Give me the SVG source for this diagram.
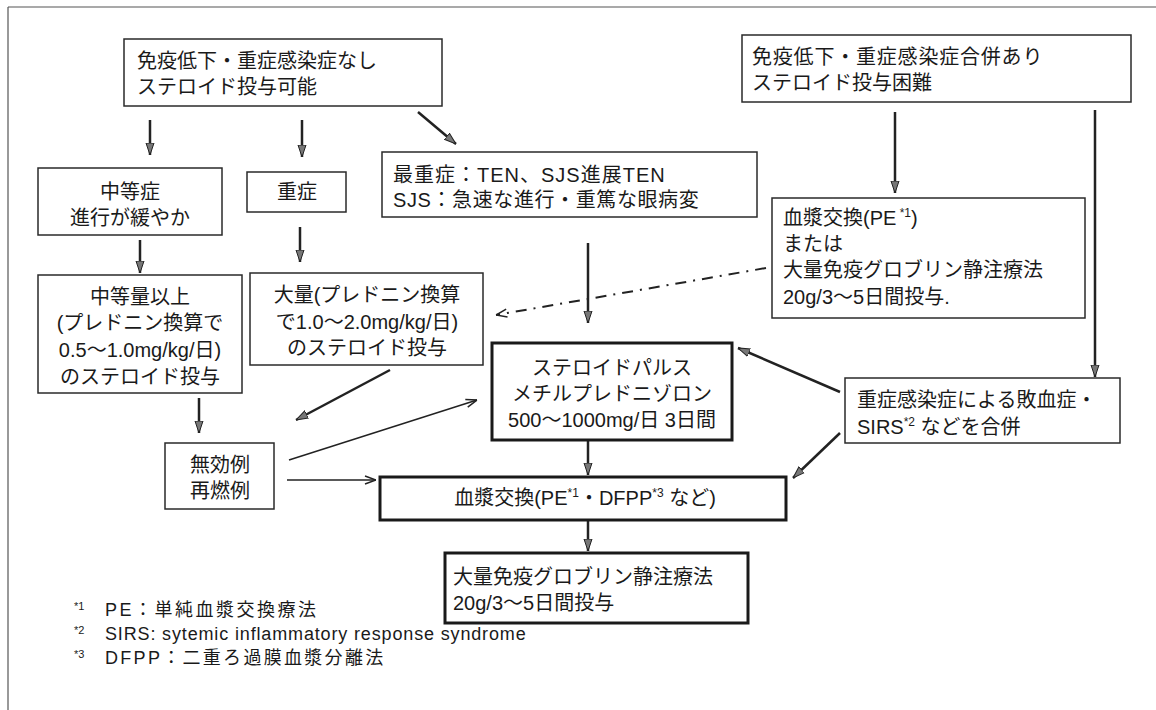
<svg xmlns="http://www.w3.org/2000/svg" width="1156" height="710" viewBox="0 0 1156 710">
<style>
.t{font-family:"Liberation Sans","Noto Sans CJK JP",sans-serif;font-size:20px;fill:#1a1a1a}
.c{text-anchor:middle}
.sup{font-size:12px}
.fn{font-family:"Liberation Sans","Noto Sans CJK JP",sans-serif;font-size:18px;fill:#1a1a1a}
.fm{font-family:"Liberation Sans","Noto Sans CJK JP",sans-serif;font-size:11px;fill:#1a1a1a}
.box{fill:#fff;stroke:#2a2a2a;stroke-width:1.5}
.bold{fill:#fff;stroke:#1a1a1a;stroke-width:3}
.ar{stroke:#222;stroke-width:2.5;fill:none;marker-end:url(#ah)}
.th{stroke:#222;stroke-width:1.5;fill:none;marker-end:url(#oh)}
.dd{stroke:#222;stroke-width:2;fill:none;stroke-dasharray:11 7 2 7;marker-end:url(#oh)}
</style>
<defs>
<marker id="ah" viewBox="0 0 12 10" refX="12" refY="5" markerWidth="12" markerHeight="10" markerUnits="userSpaceOnUse" orient="auto">
<path d="M0,1 L12,5 L0,9 Z" fill="#777" stroke="#222" stroke-width="1"/>
</marker>
<marker id="oh" viewBox="0 0 12 10" refX="12" refY="5" markerWidth="12" markerHeight="10" markerUnits="userSpaceOnUse" orient="auto">
<path d="M1,1 L12,5 L1,9" fill="none" stroke="#222" stroke-width="1.5"/>
</marker>
</defs>
<rect width="1156" height="710" fill="#fff"/>
<g id="frame" stroke="#555" stroke-width="1.2">
<line x1="8" y1="7" x2="1156" y2="7"/>
<line x1="8" y1="7" x2="8" y2="710"/>
</g>

<g id="connectors">
<line class="ar" x1="150" y1="120" x2="150" y2="155"/>
<line class="ar" x1="302" y1="120" x2="302" y2="157"/>
<line class="ar" x1="418" y1="112" x2="456" y2="144"/>
<line class="ar" x1="140" y1="240" x2="140" y2="273"/>
<line class="ar" x1="300" y1="227" x2="300" y2="262"/>
<line class="ar" x1="199" y1="398" x2="199" y2="433"/>
<line class="ar" x1="390" y1="370" x2="296" y2="420"/>
<line class="th" x1="289" y1="460" x2="477" y2="400"/>
<line class="th" x1="287" y1="480" x2="376" y2="480"/>
<line class="ar" x1="588" y1="243" x2="588" y2="323"/>
<line class="dd" x1="766" y1="268" x2="496" y2="315"/>
<line class="ar" x1="895" y1="112" x2="895" y2="193"/>
<line class="ar" x1="1095" y1="110" x2="1095" y2="377"/>
<line class="ar" x1="840" y1="392" x2="738" y2="348"/>
<line class="ar" x1="840" y1="433" x2="793" y2="478"/>
<line class="ar" x1="588" y1="440" x2="588" y2="475"/>
<line class="ar" x1="588" y1="520" x2="588" y2="551"/>
</g>

<g id="nodeA">
<rect class="box" x="124" y="39" width="318" height="67"/>
<text class="t" x="137" y="68">免疫低下・重症感染症なし</text>
<text class="t" x="137" y="94">ステロイド投与可能</text>
</g>
<g id="nodeB">
<rect class="box" x="742" y="35" width="389" height="67"/>
<text class="t" x="752" y="64" letter-spacing="0.8">免疫低下・重症感染症合併あり</text>
<text class="t" x="752" y="90">ステロイド投与困難</text>
</g>
<g id="node-moderate">
<rect class="box" x="38" y="168" width="184" height="67"/>
<text class="t c" x="130" y="199">中等症</text>
<text class="t c" x="130" y="225">進行が緩やか</text>
</g>
<g id="node-severe">
<rect class="box" x="247" y="172" width="99" height="40"/>
<text class="t c" x="297" y="199">重症</text>
</g>
<g id="node-most-severe">
<rect class="box" x="382" y="152" width="375" height="65"/>
<text class="t" x="393" y="182" letter-spacing="1">最重症：TEN、SJS進展TEN</text>
<text class="t" x="393" y="207" letter-spacing="0.6">SJS：急速な進行・重篤な眼病変</text>
</g>
<g id="node-pe-ivig">
<rect class="box" x="772" y="198" width="313" height="120"/>
<text class="t" x="783" y="225">血漿交換(PE<tspan class="sup" dy="-8"> *1</tspan><tspan dy="8">)</tspan></text>
<text class="t" x="783" y="251">または</text>
<text class="t" x="783" y="277">大量免疫グロブリン静注療法</text>
<text class="t" x="783" y="304">20g/3〜5日間投与.</text>
</g>
<g id="node-mid-dose">
<rect class="box" x="38" y="275" width="204" height="118"/>
<text class="t c" x="140" y="304">中等量以上</text>
<text class="t c" x="140" y="330">(プレドニン換算で</text>
<text class="t c" x="140" y="357">0.5〜1.0mg/kg/日)</text>
<text class="t c" x="140" y="384">のステロイド投与</text>
</g>
<g id="node-high-dose">
<rect class="box" x="250" y="273" width="233" height="92"/>
<text class="t c" x="367" y="302">大量(プレドニン換算</text>
<text class="t c" x="367" y="329">で1.0〜2.0mg/kg/日)</text>
<text class="t c" x="367" y="355">のステロイド投与</text>
</g>
<g id="node-pulse">
<rect class="bold" x="492" y="343" width="240" height="97"/>
<text class="t c" x="612" y="375">ステロイドパルス</text>
<text class="t c" x="612" y="401">メチルプレドニゾロン</text>
<text class="t c" x="612" y="427">500〜1000mg/日 3日間</text>
</g>
<g id="node-sepsis">
<rect class="box" x="845" y="378" width="275" height="65"/>
<text class="t" x="857" y="407">重症感染症による敗血症・</text>
<text class="t" x="857" y="434">SIRS<tspan class="sup" dy="-8">*2</tspan><tspan dy="8"> などを合併</tspan></text>
</g>
<g id="node-ineffective">
<rect class="box" x="165" y="443" width="109" height="66"/>
<text class="t c" x="220" y="472">無効例</text>
<text class="t c" x="220" y="498">再燃例</text>
</g>
<g id="node-pe">
<rect class="bold" x="380" y="477" width="406" height="43"/>
<text class="t c" x="585" y="505">血漿交換(PE<tspan class="sup" dy="-8">*1</tspan><tspan dy="8">・DFPP</tspan><tspan class="sup" dy="-8">*3</tspan><tspan dy="8"> など)</tspan></text>
</g>
<g id="node-ivig">
<rect class="bold" x="445" y="553" width="303" height="70"/>
<text class="t" x="453" y="584">大量免疫グロブリン静注療法</text>
<text class="t" x="453" y="610">20g/3〜5日間投与</text>
</g>
<g id="footnotes">
<text class="fm" x="74" y="610">*1</text>
<text class="fn" x="105" y="616" letter-spacing="2.5">PE：単純血漿交換療法</text>
<text class="fm" x="74" y="634">*2</text>
<text class="fn" x="105" y="640" letter-spacing="0.85">SIRS: sytemic inflammatory response syndrome</text>
<text class="fm" x="74" y="658">*3</text>
<text class="fn" x="105" y="664" letter-spacing="2.3">DFPP：二重ろ過膜血漿分離法</text>
</g>
</svg>
